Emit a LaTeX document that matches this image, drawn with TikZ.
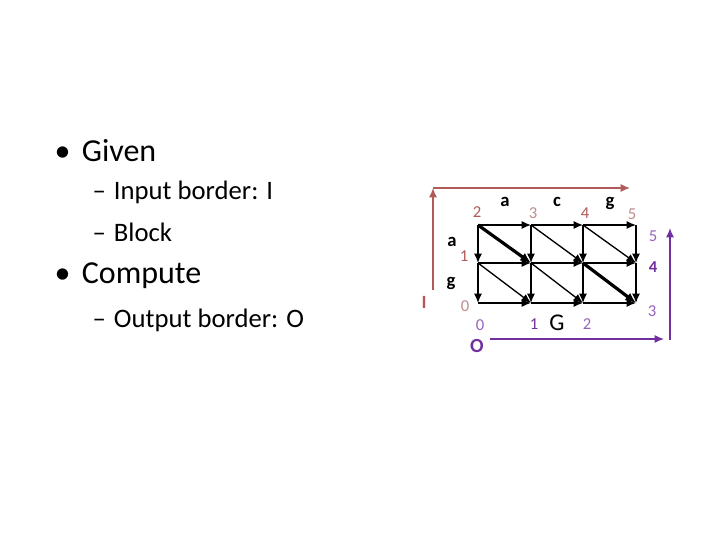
\documentclass[tikz,border=0pt]{standalone}
\usepackage{fontspec}
\setmainfont{Carlito}
\begin{document}
\begin{tikzpicture}[x=0.75pt,y=-0.75pt,
  lab/.style={font=\fontsize{12.5}{14}\selectfont},
  blab/.style={font=\bfseries\fontsize{14}{16}\selectfont},
  edge/.style={-{Latex[length=7pt,width=6pt]},line width=1pt},
  thick edge/.style={-{Latex[length=8pt,width=7pt]},line width=2.4pt},
  brd/.style={-{Latex[length=7pt,width=6pt]},line width=1pt}]
\usetikzlibrary{arrows.meta}
\definecolor{br}{RGB}{176,90,90}
\definecolor{lbr}{RGB}{190,140,140}
\definecolor{pu}{RGB}{112,48,160}
\definecolor{lpu}{RGB}{150,100,190}
\useasboundingbox (0,0) rectangle (720,540);
\node[anchor=west,font=\fontsize{24}{28}\selectfont] (t1) at (50,151) {\textbullet\hspace{0.35em}Given};
\node[anchor=west,font=\fontsize{20}{24}\selectfont] (t2) at (88,192) {–\hspace{0.3em}Input border: I};
\node[anchor=west,font=\fontsize{20}{24}\selectfont] (t3) at (88,232) {–\hspace{0.3em}Block};
\node[anchor=west,font=\fontsize{24}{28}\selectfont] (t4) at (50,276) {\textbullet\hspace{0.35em}Compute};
\node[anchor=west,font=\fontsize{20}{24}\selectfont] (t5) at (88,320) {–\hspace{0.3em}Output border: O};
% grid nodes
\foreach \i/\x in {0/478,1/531,2/583,3/636}
  \foreach \j/\y in {0/225,1/263,2/303}
    \coordinate (n\i\j) at (\x,\y);
\foreach \i in {0,1,2}{
  \pgfmathtruncatemacro{\k}{\i+1}
  \foreach \j in {0,1,2} \draw[edge] (n\i\j) -- (n\k\j);}
\foreach \i in {0,1,2,3}{
  \draw[edge] (n\i0) -- (n\i1);
  \draw[edge] (n\i1) -- (n\i2);}
\draw[thick edge] (n00) -- (n11);
\draw[edge] (n10) -- (n21);
\draw[edge] (n20) -- (n31);
\draw[edge] (n01) -- (n12);
\draw[edge] (n11) -- (n22);
\draw[thick edge] (n21) -- (n32);
% borders
\coordinate (ia) at (433,290); \coordinate (ib) at (433,188); \coordinate (ic) at (630,188);
\draw[brd,color=br] (ia) -- (ib);
\draw[brd,color=br] (ib) -- (ic);
\coordinate (oa) at (490,339); \coordinate (ob) at (664,339);
\coordinate (oc) at (670,340); \coordinate (od) at (670,228);
\draw[brd,color=pu] (oa) -- (ob);
\draw[brd,color=pu] (oc) -- (od);
% labels
\node[lab,text=br] (l2) at (477,212) {2};
\node[blab] (la) at (505,202) {a};
\node[lab,text=lbr] (l3) at (533,213) {3};
\node[blab] (lc) at (557,202) {c};
\node[lab,text=br] (l4) at (585,213) {4};
\node[blab] (lg) at (610,203) {g};
\node[lab,text=lbr] (l5) at (632,214) {5};
\node[blab] (la2) at (452,242) {a};
\node[lab,text=br] (l1) at (464,256) {1};
\node[blab] (lg2) at (451,283) {g};
\node[lab,text=lbr] (l0) at (465,306) {0};
\node[text=br,font=\bfseries\fontsize{14}{16}\selectfont] (lI) at (424,302) {I};
\node[lab,text=lpu] (b0) at (480,325) {0};
\node[lab,text=pu] (b1) at (534,324) {1};
\node[font=\fontsize{18}{20}\selectfont] (bG) at (557,323) {G};
\node[lab,text=lpu] (b2) at (587,324) {2};
\node[text=pu,font=\bfseries\fontsize{15}{17}\selectfont] (bO) at (477,346) {O};
\node[lab,text=lpu] (r5) at (653,236) {5};
\node[lab,text=pu,font=\bfseries\fontsize{12.5}{14}\selectfont] (r4) at (653,267) {4};
\node[lab,text=lpu] (r3) at (652,311) {3};
\end{tikzpicture}
\end{document}
